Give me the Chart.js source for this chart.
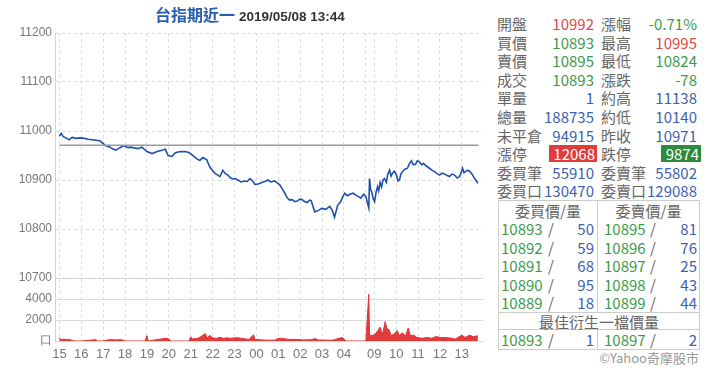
<!DOCTYPE html>
<html>
<head>
<meta charset="utf-8">
<script src="https://cdn.jsdelivr.net/npm/chart.js@4.4.1/dist/chart.umd.min.js"></script>
<style>
  body { margin: 0; width: 720px; height: 372px; background: #fff; position: relative; overflow: hidden;
         font-family: "Noto Sans CJK TC", "Noto Sans", sans-serif; }
  #chartBox { position: absolute; left: 0; top: 0; width: 490px; height: 372px; }
  #title { position: absolute; left: 155px; top: 3px; white-space: nowrap; line-height: 22px; }
  #title .name { color: #2a5db0; font-weight: bold; font-size: 16px; }
  #title .time { color: #333; font-weight: bold; font-size: 13.5px; font-family: "Liberation Sans", Arial, sans-serif; margin-left: 4px; }
  .cell { position: absolute; font-size: 15px; line-height: 19px; white-space: nowrap; }
  .lbl { color: #666; }
  .red { color: #e04848; }
  .green { color: #3d9a4c; }
  .blue { color: #3f5fae; }
  .boxRed { background: #e03c3c; color: #fff; }
  .boxGreen { background: #2e8b3e; color: #fff; }
  .hl { position: absolute; height: 1px; background: #ccc; }
  .vl { position: absolute; width: 1px; background: #ccc; }
</style>
</head>
<body>
<div id="chartBox"><canvas id="tickChart" width="490" height="372"></canvas></div>
<div id="title"><span class="name">台指期近一</span><span class="time">2019/05/08 13:44</span></div>
<div id="panel"></div>

<script>
// price line, one line of times per line of values
const priceTimes = [
  '15:00','15:05','15:10','15:18','15:27','15:35','15:46','15:57','16:08','16:19','16:30','16:40','16:51',
  '17:05','17:19','17:27','17:35','17:46','17:57','18:08','18:17','18:27','18:36','18:46',
  '19:00','19:14','19:28','19:44','19:50','19:58','20:09','20:17','20:25','20:35','20:45','20:55',
  '21:03','21:17','21:25','21:33','21:44','21:52','21:58',
  '22:06','22:12','22:20','22:28','22:35','22:42','22:49','22:56',
  '23:02','23:09','23:18','23:28','23:35','23:42','23:49','23:56',
  '00:05','00:15','00:23','00:31','00:40','00:50',
  '01:04','01:11','01:18','01:24','01:31','01:38','01:45','01:52','01:59',
  '02:05','02:12','02:19','02:26','02:30','02:40','02:50','02:59',
  '03:10','03:21','03:28','03:34','03:38','03:43','03:47','03:51','03:57',
  '04:02','04:09','04:16','04:25','04:35','04:40','04:46','04:54','05:00',
  '08:45','08:47','08:50','08:53','08:57',
  '09:01','09:05','09:09','09:12','09:16','09:20','09:24','09:28','09:33','09:37','09:42','09:46','09:50','09:55',
  '10:01','10:05','10:09','10:13','10:17','10:24','10:31','10:36','10:42','10:47','10:53','10:58',
  '11:04','11:10','11:15','11:22','11:31','11:38','11:45','11:52','11:59',
  '12:06','12:13','12:20','12:26','12:33','12:40','12:47','12:54','12:58',
  '13:02','13:06','13:10','13:16','13:21','13:28','13:35','13:40','13:44'
];
const priceValues = [
  10990,10995,10989,10986,10982,10987,10985,10986,10985,10983,10982,10981,10980,
  10971,10967,10963,10961,10966,10970,10966,10967,10965,10964,10967,
  10958,10954,10958,10961,10963,10950,10948,10955,10957,10958,10958,10956,
  10952,10943,10940,10946,10941,10927,10921,
  10914,10911,10907,10920,10913,10910,10904,10902,
  10903,10900,10896,10898,10897,10903,10899,10891,
  10892,10895,10897,10900,10896,10898,
  10890,10882,10873,10864,10859,10860,10856,10857,10861,
  10860,10856,10854,10859,10858,10835,10838,10842,
  10840,10846,10838,10824,10835,10849,10852,10856,10866,
  10873,10868,10871,10873,10868,10866,10863,10871,10866,
  10843,10903,10880,10876,10862,
  10856,10875,10886,10878,10895,10886,10900,10903,10895,10912,10920,10908,10914,10918,
  10910,10898,10900,10912,10917,10922,10924,10933,10939,10931,10932,10939,
  10937,10931,10934,10929,10924,10920,10917,10913,10910,
  10914,10912,10909,10907,10912,10910,10904,10907,10915,
  10924,10915,10917,10920,10918,10912,10903,10898,10893
];
const prevClose = 10971;

// volume per time
const volumeTimes = [
  '15:00','15:03','15:10','15:20','15:30','15:40','16:00','16:40','16:45','17:00',
  '17:20','17:30','17:50','18:00','18:55','19:00','19:03','19:50','20:00','20:05',
  '20:55','21:00','21:05','21:20','21:40','21:45','21:52','22:00','22:10','22:20',
  '22:30','22:40','22:50','23:00','23:10','23:20','23:30','23:40','23:52','23:56',
  '00:05','00:15','00:30','00:50','01:00','01:10','01:20','01:30','01:50','02:10',
  '02:30','02:40','02:50','03:10','03:30','03:45','03:55','04:00','04:05','05:00',
  '08:45','08:47','08:53','09:01','09:10','09:16','09:23','09:30','09:34','09:41',
  '09:46','09:54','10:03','10:09','10:16','10:26','10:33','10:39','10:48','10:57',
  '11:11','11:25','11:38','11:49','12:01','12:15','12:28','12:42','13:00','13:09',
  '13:22','13:31','13:40','13:44'
];
const volumeValues = [
  350,150,160,150,120,0,0,130,0,0,
  150,100,130,0,0,500,0,250,200,0,
  0,400,200,250,700,300,540,300,250,350,
  250,300,250,300,300,250,200,150,600,150,
  150,100,80,80,250,250,200,150,150,100,
  120,230,100,80,80,250,330,200,0,0,
  4450,600,520,590,1000,1310,650,1860,1220,1060,
  520,650,1000,500,780,500,1250,500,560,340,
  260,330,260,420,340,330,280,180,560,340,
  560,400,480,480
];

// axis ticks
const xTickTimes = ['15:00','16:00','17:00','18:00','19:00','20:00','21:00','22:00','23:00','00:00',
  '01:00','02:00','03:00','04:00','05:00','09:00','10:00','11:00','12:00','13:00'];
const xTickLabels = ['15','16','17','18','19','20','21','22','23','00',
  '01','02','03','04','','09','10','11','12','13'];
const priceTicks = [10700, 10800, 10900, 11000, 11100, 11200];
const volumeTicks = [0, 2000, 4000, 6000];

// night session 15:00-05:00, day session 08:45-13:45 right after a short gap
function toIdx(t) {
  const h = +t.slice(0, 2), m = +t.slice(3, 5);
  if (h >= 15) return (h - 15) * 60 + m;
  if (h < 5 || (h === 5 && m === 0)) return (h + 9) * 60 + m;
  return 848 + (h * 60 + m - 525);
}

const pricePts = priceTimes.map((t, i) => ({ x: toIdx(t), y: priceValues[i] }));
const volumePts = volumeTimes.map((t, i) => ({ x: toIdx(t), y: volumeValues[i] }));
const closePts = [{ x: 0, y: prevClose }, { x: toIdx('13:44') + 2, y: prevClose }];

const tickFont = { family: 'Liberation Sans, Arial, sans-serif', size: 12 };

new Chart(document.getElementById('tickChart').getContext('2d'), {
  type: 'line',
  data: {
    datasets: [
      { data: closePts, yAxisID: 'y', borderColor: '#999', borderWidth: 1.5, pointRadius: 0 },
      { data: pricePts, yAxisID: 'y', borderColor: '#2150a8', borderWidth: 1.6, pointRadius: 0, tension: 0 },
      { data: volumePts, yAxisID: 'yv', borderColor: '#e03434', backgroundColor: '#e03c3c',
        borderWidth: 1, pointRadius: 0, fill: 'origin', tension: 0 }
    ]
  },
  options: {
    responsive: false,
    animation: false,
    layout: { padding: { top: 33, right: 7, left: 0, bottom: 0 } },
    plugins: { legend: { display: false }, tooltip: { enabled: false } },
    scales: {
      x: {
        type: 'linear', min: -12, max: 1161,
        afterBuildTicks: s => { s.ticks = xTickTimes.map(t => ({ value: toIdx(t) })); },
        afterFit: s => { s.height = 31; },
        ticks: { autoSkip: false, maxRotation: 0, padding: 6, color: '#777',
                 font: { family: 'Liberation Sans, Arial, sans-serif', size: 13 },
                 callback: (v, i) => xTickLabels[i] },
        grid: { color: '#dcdcdc', drawTicks: false },
        border: { display: false, dash: [3, 3] }
      },
      yv: {
        position: 'left', stack: 'panes', stackWeight: 63, min: 0, max: 6000,
        afterBuildTicks: s => { s.ticks = volumeTicks.map(v => ({ value: v })); },
        afterFit: s => { s.width = 55; },
        ticks: { autoSkip: false, padding: 3, color: '#777', font: tickFont,
                 callback: v => v === 0 ? '口' : (v === 6000 ? '' : String(v)) },
        grid: { color: '#dcdcdc', drawTicks: false },
        border: { color: '#c6d6ea' }
      },
      y: {
        position: 'left', stack: 'panes', stackWeight: 245, min: 10700, max: 11200,
        afterBuildTicks: s => { s.ticks = priceTicks.map(v => ({ value: v })); },
        afterFit: s => { s.width = 55; },
        ticks: { autoSkip: false, padding: 3, color: '#777', font: tickFont, callback: v => String(v) },
        grid: { color: ctx => ctx.tick && ctx.tick.value === 10700 ? '#c8c8c8' : '#dcdcdc', drawTicks: false },
        border: { color: '#c6d6ea', dash: [3, 3] }
      }
    }
  }
});

// quote panel on the right
const quoteRows = [
  ['開盤', '10992', 'red',   '漲幅', '-0.71%', 'green'],
  ['買價', '10893', 'green', '最高', '10995',  'red'],
  ['賣價', '10895', 'green', '最低', '10824',  'green'],
  ['成交', '10893', 'green', '漲跌', '-78',    'green'],
  ['單量', '1',     'blue',  '約高', '11138',  'blue'],
  ['總量', '188735','blue',  '約低', '10140',  'blue'],
  ['未平倉','94915','blue',  '昨收', '10971',  'blue'],
  ['漲停', '12068', 'boxRed','跌停', '9874',   'boxGreen'],
  ['委買筆','55910','blue',  '委賣筆','55802', 'blue'],
  ['委買口','130470','blue', '委賣口','129088','blue']
];
const bidPrices = ['10893', '10892', '10891', '10890', '10889'];
const bidQty = ['50', '59', '68', '95', '18'];
const askPrices = ['10895', '10896', '10897', '10898', '10899'];
const askQty = ['81', '76', '25', '43', '44'];
const bestBid = ['10893', '1'];
const bestAsk = ['10897', '2'];

const panel = document.getElementById('panel');
function put(text, cls, left, top, width, align, extra) {
  const d = document.createElement('div');
  d.className = 'cell ' + cls;
  d.textContent = text;
  d.style.left = left + 'px';
  d.style.top = top + 'px';
  if (width) d.style.width = width + 'px';
  if (align) d.style.textAlign = align;
  if (extra) Object.assign(d.style, extra);
  panel.appendChild(d);
  return d;
}
function line(cls, left, top, len) {
  const d = document.createElement('div');
  d.className = cls;
  d.style.left = left + 'px';
  d.style.top = top + 'px';
  if (cls === 'hl') d.style.width = len + 'px'; else d.style.height = len + 'px';
  panel.appendChild(d);
}

quoteRows.forEach((r, i) => {
  const top = 14 + i * 18.6;
  put(r[0], 'lbl', 497, top);
  if (r[2].startsWith('box')) put(r[1], r[2], 549, top + 1, 46, 'right', { lineHeight: '17px', height: '17px', paddingRight: '2px' });
  else put(r[1], r[2], 530, top, 64, 'right');
  put(r[3], 'lbl', 601, top);
  if (r[5].startsWith('box')) put(r[4], r[5], 661, top + 1, 38, 'right', { lineHeight: '17px', height: '17px', paddingRight: '2px' });
  else put(r[4], r[5], 630, top, 67, 'right');
});

// order book table
line('hl', 498, 200, 202);
line('hl', 498, 312, 202);
line('hl', 498, 329, 202);
line('hl', 498, 349, 202);
line('vl', 498, 200, 150);
line('vl', 699, 200, 150);
line('vl', 597, 200, 112);
line('vl', 597, 329, 20);
put('委買價/量', 'lbl', 498, 201, 100, 'center');
put('委賣價/量', 'lbl', 598, 201, 101, 'center');
for (let i = 0; i < 5; i++) {
  const top = 219 + i * 18.5;
  put(bidPrices[i], 'green', 501, top);
  put('/', 'lbl', 548, top);
  put(bidQty[i], 'blue', 560, top, 34, 'right');
  put(askPrices[i], 'green', 604, top);
  put('/', 'lbl', 650, top);
  put(askQty[i], 'blue', 660, top, 37, 'right');
}
put('最佳衍生一檔價量', 'lbl', 498, 312, 202, 'center');
put(bestBid[0], 'green', 501, 330);
put('/', 'lbl', 548, 330);
put(bestBid[1], 'blue', 560, 330, 34, 'right');
put(bestAsk[0], 'green', 604, 330);
put('/', 'lbl', 650, 330);
put(bestAsk[1], 'blue', 660, 330, 37, 'right');
put('©Yahoo奇摩股市', 'lbl', 580, 348, 119, 'right', { color: '#999', fontSize: '13px' });
</script>
</body>
</html>
